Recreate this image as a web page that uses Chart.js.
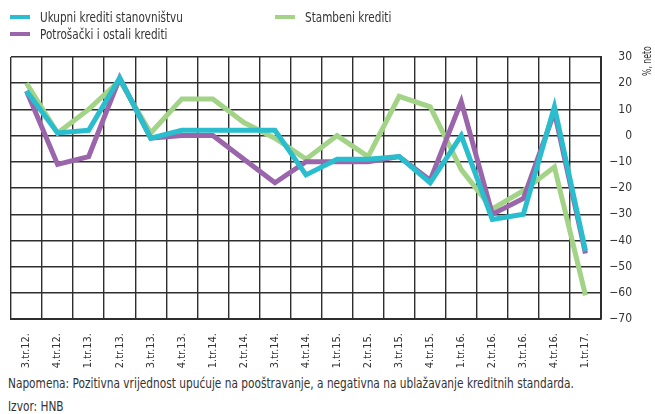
<!DOCTYPE html>
<html>
<head>
<meta charset="utf-8">
<script src="https://cdn.jsdelivr.net/npm/chart.js@4.4.0/dist/chart.umd.min.js"></script>
<style>
    body {
        margin: 0;
        width: 655px;
        height: 414px;
        background: #fff;
        position: relative;
        overflow: hidden;
        font-family: "Liberation Sans Narrow", "DejaVu Sans Condensed", "Arial Narrow", sans-serif;
        color: #333;
    }
    .chart-box { position: absolute; left: 0; top: 0; width: 655px; height: 372px; }
    .legend-item { position: absolute; height: 16px; white-space: nowrap; }
    .legend-item i { position: absolute; left: 0; top: 6px; width: 20px; height: 4px; }
    .legend-item span { position: absolute; left: 30px; top: 0; font-size: 14px; line-height: 16px; transform-origin: left center; transform: scaleX(0.83); }
    .axis-title { position: absolute; left: 641px; top: 76px; font-size: 12px; line-height: 12px; white-space: nowrap; transform-origin: left top; transform: rotate(-90deg) scaleX(0.72); }
    .note { position: absolute; left: 8px; font-size: 14px; line-height: 16px; white-space: nowrap; transform-origin: left center; transform: scaleX(0.84); }
</style>
</head>
<body>
<div class="chart-box"><canvas id="lendingChart"></canvas></div>
<div id="legend"></div>
<div class="axis-title">%, neto</div>
<div class="note" style="top:375px">Napomena: Pozitivna vrijednost upućuje na pooštravanje, a negativna na ublažavanje kreditnih standarda.</div>
<div class="note" style="top:398px">Izvor: HNB</div>

<script>
// Quarters
const quarters = ['3.tr.12.', '4.tr.12.', '1.tr.13.', '2.tr.13.', '3.tr.13.', '4.tr.13.', '1.tr.14.', '2.tr.14.', '3.tr.14.', '4.tr.14.',
    '1.tr.15.', '2.tr.15.', '3.tr.15.', '4.tr.15.', '1.tr.16.', '2.tr.16.', '3.tr.16.', '4.tr.16.', '1.tr.17.'];

// Series values (%, neto)
const ukupni = [17, 1, 2, 22, -1, 2, 2, 2, 2, -15, -9, -9, -8, -18, 0, -32, -30, 11, -44];
const potrosacki = [17, -11, -8, 22, -1, 0, 0, -9, -18, -10, -10, -10, -8, -17, 13, -30, -24, 9, -45];
const stambeni = [20, 1, 10, 21, 1, 14, 14, 5, -1, -9, 0, -8, 15, 11, -13, -28, -21, -12, -61];

// Y axis range
const yMin = -70;
const yMax = 30;
const yStep = 10;

const colors = {
    ukupni: '#29bdcd',
    potrosacki: '#9a65aa',
    stambeni: '#a2d386'
};

// Legend (HTML, two columns like the original)
const legendItems = [
    { label: 'Ukupni krediti stanovništvu', color: colors.ukupni, left: 10, top: 9 },
    { label: 'Potrošački i ostali krediti', color: colors.potrosacki, left: 10, top: 26 },
    { label: 'Stambeni krediti', color: colors.stambeni, left: 275, top: 9 }
];
const legendEl = document.getElementById('legend');
legendItems.forEach(item => {
    const div = document.createElement('div');
    div.className = 'legend-item';
    div.style.left = item.left + 'px';
    div.style.top = item.top + 'px';
    div.innerHTML = `<i style="background:${item.color}"></i><span>${item.label}</span>`;
    legendEl.appendChild(div);
});

const fontFamily = '"Liberation Sans Narrow", "DejaVu Sans Condensed", "Arial Narrow", sans-serif';
const gridColor = '#2e2e2e';

const ctx = document.getElementById('lendingChart').getContext('2d');
const lendingChart = new Chart(ctx, {
    type: 'line',
    data: {
        labels: quarters,
        datasets: [
            { label: 'Ukupni krediti stanovništvu', data: ukupni, borderColor: colors.ukupni },
            { label: 'Potrošački i ostali krediti', data: potrosacki, borderColor: colors.potrosacki },
            { label: 'Stambeni krediti', data: stambeni, borderColor: colors.stambeni }
        ].map(ds => Object.assign(ds, { borderWidth: 5, pointRadius: 0, tension: 0, fill: false }))
    },
    options: {
        responsive: true,
        maintainAspectRatio: false,
        animation: false,
        layout: {
            padding: { left: 11, top: 57, right: 23, bottom: 0 }
        },
        plugins: {
            legend: { display: false },
            tooltip: { enabled: false }
        },
        scales: {
            x: {
                offset: true,
                grid: { color: gridColor, lineWidth: 1.4, offset: true, drawTicks: false },
                border: { color: gridColor, width: 2 },
                ticks: {
                    autoSkip: false,
                    maxRotation: 90,
                    minRotation: 90,
                    padding: 14,
                    color: '#333',
                    font: { family: fontFamily, size: 11 }
                },
                afterFit: scale => { scale.height = 53; }
            },
            y: {
                position: 'right',
                min: yMin,
                max: yMax,
                grid: { color: gridColor, lineWidth: 1.4, drawTicks: false },
                border: { color: gridColor, width: 2 },
                ticks: {
                    stepSize: yStep,
                    crossAlign: 'far',
                    padding: 6,
                    color: '#333',
                    font: { family: fontFamily, size: 12 },
                    callback: v => String(v).replace('-', '\u2212')
                },
                afterFit: scale => { scale.width = 31; }
            }
        }
    }
});
</script>
</body>
</html>
